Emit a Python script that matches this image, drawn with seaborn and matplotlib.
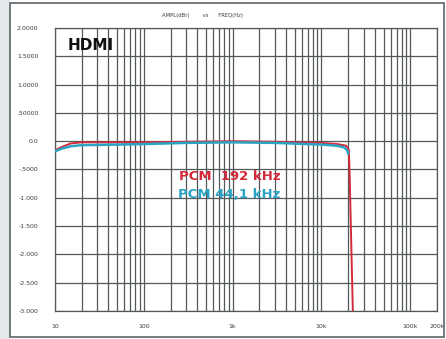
import numpy as np
import pandas as pd
import matplotlib
matplotlib.use("Agg")
import matplotlib.pyplot as plt
from matplotlib.patches import Rectangle
from matplotlib.ticker import FixedLocator, NullFormatter
import seaborn as sns

# Frequency response, level in dBr versus frequency in Hz
freq_192 = [10, 12, 15, 20, 50, 100, 300, 1000, 3000, 10000, 15000, 19000, 20300, 20700, 22800]
ampl_192 = [-0.16, -0.10, -0.04, -0.02, -0.02, -0.02, -0.01, 0.0, -0.01, -0.03, -0.05, -0.08, -0.15, -0.50, -3.30]

freq_441 = [10, 12, 15, 20, 50, 100, 300, 1000, 3000, 10000, 15000, 18000, 19500, 20000]
ampl_441 = [-0.18, -0.13, -0.09, -0.07, -0.06, -0.05, -0.03, -0.02, -0.03, -0.06, -0.08, -0.11, -0.16, -0.22]

y_ticks = [2.0, 1.5, 1.0, 0.5, 0.0, -0.5, -1.0, -1.5, -2.0, -2.5, -3.0]
y_labels = ["2.0000", "1.5000", "1.0000", ".50000", "0.0", "-.5000", "-1.000", "-1.500", "-2.000", "-2.500", "-3.000"]
x_ticks = [10, 100, 1000, 10000, 100000, 200000]
x_labels = ["10", "100", "1k", "10k", "100k", "200k"]

df = pd.concat([
    pd.DataFrame({"freq": freq_192, "ampl": ampl_192, "series": "PCM 192 kHz"}),
    pd.DataFrame({"freq": freq_441, "ampl": ampl_441, "series": "PCM 44,1 kHz"}),
], ignore_index=True)

sns.set_style("white")
plt.rcParams["font.family"] = ["DejaVu Sans"]

fig = plt.figure(figsize=(4.46, 3.39), dpi=100)
fig.patch.set_facecolor("white")

# outer panel: pale strip on the left and a thin dark frame
fig.patches.append(Rectangle((0, 0), 10 / 446, 1, transform=fig.transFigure,
                             facecolor="#e3e8ec", edgecolor="none", zorder=0))
fig.patches.append(Rectangle((10 / 446, 2 / 339), 434 / 446, 334 / 339, transform=fig.transFigure,
                             facecolor="none", edgecolor="#6a6f72", linewidth=1.3, zorder=1))

ax = fig.add_axes([55 / 446, 1 - 311 / 339, 382 / 446, 283 / 339])
ax.set_facecolor("white")

palette = {"PCM 192 kHz": "#d42a3a", "PCM 44,1 kHz": "#2aa4c4"}
sns.lineplot(data=df, x="freq", y="ampl", hue="series", palette=palette,
             size="series", sizes={"PCM 192 kHz": 1.4, "PCM 44,1 kHz": 1.8},
             legend=False, ax=ax, sort=False, zorder=3)

ax.set_xscale("log")
ax.set_xlim(10, 200000)
ax.set_ylim(-3.0, 2.0)

# grid: every 1-9 step in each decade, and every 0.5 dB
minor = [m * 10 ** d for d in range(1, 6) for m in range(2, 10) if m * 10 ** d < 200000]
ax.xaxis.set_minor_locator(FixedLocator(minor))
ax.xaxis.set_minor_formatter(NullFormatter())
ax.set_xticks(x_ticks)
ax.set_xticklabels(x_labels)
ax.set_yticks(y_ticks)
ax.set_yticklabels(y_labels)
ax.grid(True, which="both", axis="x", color="#55585a", linewidth=0.9)
ax.grid(True, which="major", axis="y", color="#55585a", linewidth=0.9)
ax.set_axisbelow(True)
ax.tick_params(axis="both", which="both", length=0, labelsize=4.5, labelcolor="#3c3c3c")
ax.tick_params(axis="y", pad=12)
ax.tick_params(axis="x", pad=9)
for s in ax.spines.values():
    s.set_color("#55585a")
    s.set_linewidth(0.9)
ax.set_xlabel("")
ax.set_ylabel("")

fig.text(203 / 446, 1 - 15 / 339, "AMPL(dBr)        vs      FREQ(Hz)", fontsize=3.8,
         color="#3c3c3c", ha="center", va="center")

ax.text(68 / 446, 1 - 45 / 339, "HDMI", transform=fig.transFigure, fontsize=11,
        fontweight="bold", color="#111111", ha="left", va="center")
ax.text(179 / 446, 1 - 177 / 339, "PCM  192 kHz", transform=fig.transFigure, fontsize=9.5,
        fontweight="bold", color="#d42a3a", ha="left", va="center")
ax.text(178 / 446, 1 - 195 / 339, "PCM 44,1 kHz", transform=fig.transFigure, fontsize=9.5,
        fontweight="bold", color="#2aa4c4", ha="left", va="center")

fig.savefig("out.png", dpi=100)
